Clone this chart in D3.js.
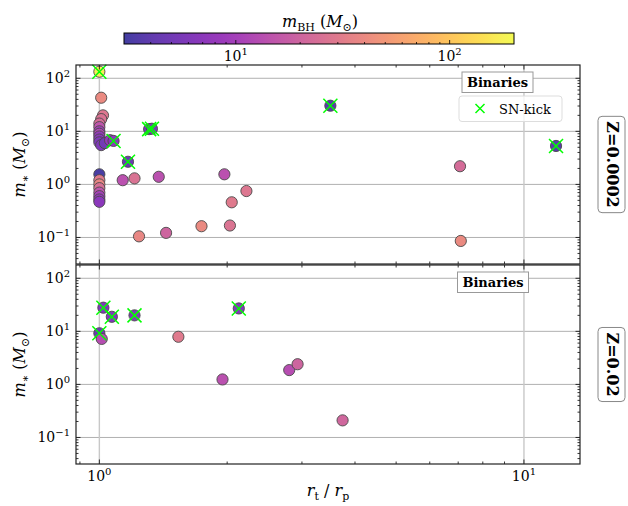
<!DOCTYPE html>
<html><head><meta charset="utf-8">
<script src="https://cdn.jsdelivr.net/npm/d3@7"></script>
<style>body{margin:0;background:#fff}svg{display:block}</style>
</head><body><svg id="c" width="628" height="506"></svg>
<script>
// ---- data: top panel, Z=0.0002 ----
const topR    = [1.0, 1.01, 1.02, 1.01, 1.0, 1.0, 1.0, 1.0, 1.0, 1.0, 1.0, 1.01, 1.03, 1.06, 1.08, 1.168, 1.31, 1.33, 1.0, 1.0, 1.0, 1.0, 1.0, 1.0, 1.0, 1.0, 1.135, 1.21, 1.38, 1.24, 1.436, 3.5, 1.97, 2.22, 2.05, 1.74, 2.03, 11.9, 7.07, 7.1];
const topM    = [133, 43, 20, 17, 14, 12, 10, 9, 8, 7, 6.2, 5.5, 6.0, 6.8, 6.6, 2.67, 11, 11.2, 1.55, 1.2, 1.0, 0.85, 0.7, 0.6, 0.52, 0.47, 1.2, 1.3, 1.39, 0.105, 0.122, 30.4, 1.55, 0.75, 0.46, 0.163, 0.168, 5.3, 2.2, 0.086];
const topMbh  = [170, 40, 28, 26, 24, 15, 10, 12, 8, 7, 6, 6, 5, 8, 7, 4.5, 5.5, 5.5, 3.2, 30, 38, 25, 15, 10, 8, 7, 14, 26, 14, 38, 20, 3.6, 14, 28, 30, 40, 27, 3.6, 23, 40];
const topKick = [1, 0, 0, 0, 0, 0, 0, 0, 0, 0, 0, 0, 0, 0, 1, 1, 1, 1, 0, 0, 0, 0, 0, 0, 0, 0, 0, 0, 0, 0, 0, 1, 0, 0, 0, 0, 0, 1, 0, 0];
// ---- data: bottom panel, Z=0.02 ----
const botR    = [1.0, 1.013, 1.022, 1.07, 1.21, 2.13, 1.535, 1.95, 2.8, 2.93, 3.74];
const botM    = [9.2, 7.2, 27.9, 18.8, 20, 27, 7.9, 1.24, 1.86, 2.4, 0.21];
const botMbh  = [4.5, 13, 6, 6, 6, 6, 30, 14, 13, 20, 21];
const botKick = [1, 0, 1, 1, 1, 1, 0, 0, 0, 0, 0];
// ---- ticks / labels ----
const xMajor = [1, 10];
const yMajor = [0.1, 1, 10, 100];
const cbMajor = [10, 100];
const panelLabels = ["Z=0.0002", "Z=0.02"];
const legendTitle = "Binaries";
const legendEntry = "SN-kick";

const svg = d3.select("#c");
const L = 76, R = 580;
const panels = [
  {top: 65, bot: 264, r: topR, m: topM, bh: topMbh, k: topKick, label: panelLabels[0], legend: true},
  {top: 265, bot: 464, r: botR, m: botM, bh: botMbh, k: botKick, label: panelLabels[1], legend: false}
];
const x = d3.scaleLog().domain([Math.pow(10,-0.055), Math.pow(10,1.132)]).range([L, R]);
const cbX = d3.scaleLog().domain([3, 200]).range([124, 514]);
const ALPHA = 0.78;
function col(v){
  const t = (Math.log10(v) - Math.log10(3)) / (Math.log10(200) - Math.log10(3));
  const c = d3.rgb(d3.interpolatePlasma(Math.max(0, Math.min(1, t))));
  return d3.rgb(c.r*ALPHA + 255*(1-ALPHA), c.g*ALPHA + 255*(1-ALPHA), c.b*ALPHA + 255*(1-ALPHA)).formatHex();
}
const SERIF = "DejaVu Serif";

function minorTicks(lo, hi){
  const out = [];
  for (let e = -3; e <= 3; e++) for (let k = 2; k <= 9; k++){
    const v = k*Math.pow(10,e); if (v > lo && v < hi) out.push(v);
  }
  return out;
}
function sup(sel, base, exp){
  sel.append("tspan").text(base);
  sel.append("tspan").attr("dy", -6).attr("font-size", "10px").text(exp);
}

// ---- colorbar ----
const defs = svg.append("defs");
const grad = defs.append("linearGradient").attr("id", "cbg");
for (let i = 0; i <= 40; i++){
  const v = Math.pow(10, Math.log10(3) + i/40*(Math.log10(200)-Math.log10(3)));
  grad.append("stop").attr("offset", (i/40*100)+"%").attr("stop-color", col(v));
}
svg.append("rect").attr("x", 124).attr("y", 33).attr("width", 390).attr("height", 11)
  .attr("fill", "url(#cbg)").attr("stroke", "#000").attr("stroke-width", 1);
minorTicks(3, 200).forEach(v => {
  svg.append("line").attr("x1", cbX(v)).attr("x2", cbX(v)).attr("y1", 44).attr("y2", 42)
    .attr("stroke", "#000").attr("stroke-width", 0.8);
});
cbMajor.forEach(v => {
  svg.append("line").attr("x1", cbX(v)).attr("x2", cbX(v)).attr("y1", 44).attr("y2", 40)
    .attr("stroke", "#000").attr("stroke-width", 0.8);
  const t = svg.append("text").attr("x", cbX(v)).attr("y", 61).attr("text-anchor", "middle")
    .attr("font-family", SERIF).attr("font-size", "14px");
  sup(t, "10", String(Math.round(Math.log10(v))));
});
{
  const t = svg.append("text").attr("x", 320).attr("y", 27).attr("text-anchor", "middle")
    .attr("font-family", SERIF).attr("font-size", "16px");
  t.append("tspan").attr("font-style", "italic").text("m");
  t.append("tspan").attr("dy", 4).attr("font-size", "11px").text("BH");
  t.append("tspan").attr("dy", -4).text(" (");
  t.append("tspan").attr("font-style", "italic").text("M");
  t.append("tspan").attr("dy", 4).attr("font-size", "11px").text("⊙");
  t.append("tspan").attr("dy", -4).text(")");
}

// ---- panels ----
panels.forEach((p, pi) => {
  const y = d3.scaleLog().domain([Math.pow(10,-1.5), Math.pow(10,2.25)]).range([p.bot, p.top]);
  const g = svg.append("g");
  // grid
  yMajor.forEach(v => g.append("line").attr("x1", L).attr("x2", R).attr("y1", y(v)).attr("y2", y(v))
    .attr("stroke", "#b0b0b0").attr("stroke-width", 1));
  xMajor.forEach(v => g.append("line").attr("x1", x(v)).attr("x2", x(v)).attr("y1", p.top).attr("y2", p.bot)
    .attr("stroke", "#c8c8c8").attr("stroke-width", 1.4));
  // points
  const idx = d3.range(p.r.length);
  g.selectAll("circle.pt").data(idx).join("circle").attr("class", "pt")
    .attr("cx", i => x(p.r[i])).attr("cy", i => y(p.m[i])).attr("r", 5.6)
    .attr("fill", i => col(p.bh[i])).attr("stroke", "#4a4a4a").attr("stroke-width", 0.9);
  const kicks = idx.filter(i => p.k[i]);
  kicks.forEach(i => {
    const cx = x(p.r[i]), cy = y(p.m[i]), s = 7;
    g.append("path").attr("d", `M${cx-s},${cy-s}L${cx+s},${cy+s}M${cx-s},${cy+s}L${cx+s},${cy-s}`)
      .attr("stroke", "#00ff00").attr("stroke-width", 1.5).attr("fill", "none");
  });
  // ticks
  const xmin = minorTicks(x.domain()[0], x.domain()[1]);
  const ymin = minorTicks(y.domain()[0], y.domain()[1]);
  const tk = (x1,y1,x2,y2) => g.append("line").attr("x1",x1).attr("y1",y1).attr("x2",x2).attr("y2",y2)
    .attr("stroke","#000").attr("stroke-width",0.8);
  xmin.forEach(v => { tk(x(v), p.bot, x(v), p.bot-2.5); tk(x(v), p.top, x(v), p.top+2.5); });
  xMajor.forEach(v => { tk(x(v), p.bot, x(v), p.bot-4.5); tk(x(v), p.top, x(v), p.top+4.5); });
  ymin.forEach(v => { tk(L, y(v), L+2.5, y(v)); tk(R, y(v), R-2.5, y(v)); });
  yMajor.forEach(v => { tk(L, y(v), L+4.5, y(v)); tk(R, y(v), R-4.5, y(v)); });
  // frame
  g.append("rect").attr("x", L).attr("y", p.top).attr("width", R-L).attr("height", p.bot-p.top)
    .attr("fill", "none").attr("stroke", "#222").attr("stroke-width", 1.2);
  // y tick labels
  yMajor.forEach(v => {
    const e = Math.round(Math.log10(v));
    const t = g.append("text").attr("x", L-6).attr("y", y(v)+5).attr("text-anchor", "end")
      .attr("font-family", SERIF).attr("font-size", "14px");
    sup(t, "10", e < 0 ? "−" + (-e) : String(e));
  });
  // y label
  {
    const cy = (p.top + p.bot)/2;
    const t = g.append("text").attr("transform", `translate(25,${cy}) rotate(-90)`).attr("text-anchor", "middle")
      .attr("font-family", SERIF).attr("font-size", "16px");
    t.append("tspan").attr("font-style", "italic").text("m");
    t.append("tspan").attr("dy", 4).attr("font-size", "11px").text("∗");
    t.append("tspan").attr("dy", -4).text(" (");
    t.append("tspan").attr("font-style", "italic").text("M");
    t.append("tspan").attr("dy", 4).attr("font-size", "11px").text("⊙");
    t.append("tspan").attr("dy", -4).text(")");
  }
  // panel label (right)
  {
    const cy = (p.top + p.bot)/2;
    const lg = g.append("g").attr("transform", `translate(612,${cy}) rotate(90)`);
    const t = lg.append("text").attr("x", 0).attr("y", 5.5).attr("text-anchor", "middle")
      .attr("font-family", SERIF).attr("font-weight", "bold").attr("font-size", "16px").text(p.label);
    const bb = t.node().getBBox();
    lg.insert("rect", "text").attr("x", bb.x-5).attr("y", -13).attr("width", bb.width+10).attr("height", 27)
      .attr("rx", 4).attr("fill", "#fff").attr("stroke", "#888").attr("stroke-width", 1);
  }
  // legend
  {
    const bx0 = p.legend ? 462 : 457.5;
    g.append("rect").attr("x", bx0).attr("y", p.top+7).attr("width", 71).attr("height", 20.5)
      .attr("fill", "#fff").attr("stroke", "#999").attr("stroke-width", 1);
    g.append("text").attr("x", bx0+35.5).attr("y", p.top+22).attr("text-anchor", "middle")
      .attr("font-family", SERIF).attr("font-weight", "bold").attr("font-size", "13px").text(legendTitle);
    if (p.legend){
      g.append("rect").attr("x", 459).attr("y", p.top+31).attr("width", 103).attr("height", 25.5).attr("rx", 3)
        .attr("fill", "#fff").attr("fill-opacity", 0.8).attr("stroke", "#ddd").attr("stroke-width", 1);
      const cx = 480, cy = p.top+43.5, s = 4.5;
      g.append("path").attr("d", `M${cx-s},${cy-s}L${cx+s},${cy+s}M${cx-s},${cy+s}L${cx+s},${cy-s}`)
        .attr("stroke", "#00ff00").attr("stroke-width", 1.5);
      g.append("text").attr("x", 499).attr("y", p.top+48.5).attr("font-family", SERIF).attr("font-size", "13px")
        .text(legendEntry);
    }
  }
  // x tick labels (bottom panel only)
  if (pi === 1){
    xMajor.forEach(v => {
      const t = g.append("text").attr("x", x(v)).attr("y", 481).attr("text-anchor", "middle")
        .attr("font-family", SERIF).attr("font-size", "14px");
      sup(t, "10", String(Math.round(Math.log10(v))));
    });
    const t = g.append("text").attr("x", 328).attr("y", 496).attr("text-anchor", "middle")
      .attr("font-family", SERIF).attr("font-size", "16px");
    t.append("tspan").attr("font-style", "italic").text("r");
    t.append("tspan").attr("dy", 4).attr("font-size", "11px").text("t");
    t.append("tspan").attr("dy", -4).text(" / ");
    t.append("tspan").attr("font-style", "italic").text("r");
    t.append("tspan").attr("dy", 4).attr("font-size", "11px").text("p");
  }
});
</script></body></html>
